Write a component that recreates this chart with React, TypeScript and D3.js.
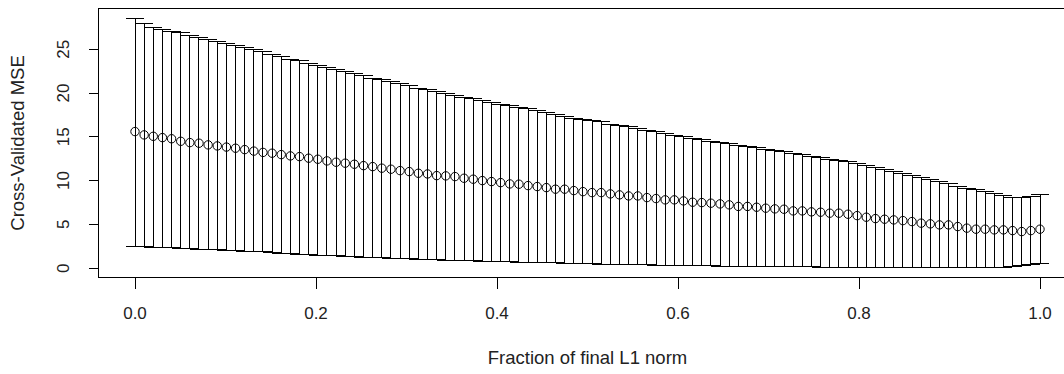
import React from 'react';
import * as d3 from 'd3';

// fraction of final L1 norm grid (seq(0, 1, length = 100))
const fractions: number[] = d3.range(100).map(i => i / 99);

const cvMean: number[] = [
  15.60, 15.22, 15.06, 14.91, 14.78, 14.49, 14.34, 14.27, 14.08, 13.96,
  13.83, 13.70, 13.54, 13.37, 13.22, 13.13, 12.97, 12.82, 12.74, 12.56,
  12.44, 12.25, 12.10, 11.99, 11.87, 11.71, 11.60, 11.42, 11.30, 11.14,
  11.03, 10.84, 10.76, 10.57, 10.54, 10.46, 10.27, 10.16, 10.00, 9.89,
  9.77, 9.62, 9.59, 9.43, 9.32, 9.20, 9.02, 9.02, 8.86, 8.74,
  8.63, 8.63, 8.48, 8.37, 8.25, 8.25, 8.06, 7.95, 7.80, 7.80,
  7.68, 7.53, 7.49, 7.42, 7.34, 7.23, 7.05, 7.05, 6.96, 6.85,
  6.77, 6.73, 6.54, 6.54, 6.43, 6.39, 6.28, 6.28, 6.16, 6.00,
  5.82, 5.66, 5.59, 5.51, 5.43, 5.32, 5.14, 5.06, 4.94, 4.94,
  4.75, 4.57, 4.45, 4.45, 4.37, 4.37, 4.29, 4.18, 4.29, 4.45,
];

const cvUpper: number[] = [
  28.54, 27.97, 27.51, 27.28, 27.05, 26.90, 26.63, 26.37, 26.14, 25.87,
  25.68, 25.46, 25.23, 25.00, 24.73, 24.43, 24.16, 23.86, 23.70, 23.40,
  23.09, 22.94, 22.64, 22.41, 22.18, 21.95, 21.69, 21.50, 21.27, 21.04,
  20.81, 20.55, 20.35, 20.20, 19.98, 19.71, 19.52, 19.33, 19.13, 18.90,
  18.72, 18.53, 18.38, 18.18, 17.99, 17.78, 17.50, 17.31, 17.12, 16.93,
  16.82, 16.70, 16.44, 16.29, 16.17, 15.90, 15.71, 15.56, 15.33, 15.18,
  15.02, 14.84, 14.65, 14.50, 14.34, 14.19, 14.04, 13.85, 13.73, 13.58,
  13.42, 13.31, 13.12, 12.93, 12.74, 12.59, 12.44, 12.28, 12.13, 11.90,
  11.71, 11.53, 11.30, 11.03, 10.76, 10.61, 10.39, 10.08, 9.85, 9.62,
  9.32, 9.09, 8.94, 8.74, 8.56, 8.33, 8.10, 8.06, 8.17, 8.37,
];

const cvLower: number[] = [
  2.47, 2.47, 2.39, 2.39, 2.32, 2.24, 2.24, 2.17, 2.17, 2.09,
  2.01, 1.97, 1.94, 1.86, 1.86, 1.78, 1.71, 1.63, 1.60, 1.52,
  1.48, 1.44, 1.40, 1.33, 1.29, 1.25, 1.21, 1.18, 1.14, 1.10,
  1.06, 1.02, 0.99, 0.95, 0.91, 0.87, 0.87, 0.83, 0.80, 0.76,
  0.76, 0.72, 0.68, 0.68, 0.64, 0.64, 0.60, 0.57, 0.57, 0.53,
  0.49, 0.45, 0.45, 0.42, 0.42, 0.38, 0.38, 0.34, 0.34, 0.30,
  0.30, 0.26, 0.26, 0.26, 0.22, 0.22, 0.19, 0.19, 0.19, 0.19,
  0.15, 0.15, 0.15, 0.15, 0.15, 0.11, 0.11, 0.11, 0.11, 0.11,
  0.11, 0.11, 0.07, 0.07, 0.07, 0.09, 0.08, 0.07, 0.07, 0.07,
  0.07, 0.07, 0.06, 0.05, 0.08, 0.12, 0.19, 0.26, 0.38, 0.49,
];

const xTicks: number[] = [0, 0.2, 0.4, 0.6, 0.8, 1.0];
const yTicks: number[] = [0, 5, 10, 15, 20, 25];

const W = 1064;
const H = 374;
const box = { left: 98.8, right: 1076.2, top: 8.3, bottom: 277.7 };
const font = '"Liberation Sans", Arial, Helvetica, sans-serif';
const ink = '#000';

// R style axis extension: 4% on each side
const pad = (lo: number, hi: number): [number, number] => {
  const r = hi - lo;
  return [lo - 0.04 * r, hi + 0.04 * r];
};

const App = () => {
  const x = d3.scaleLinear().domain(pad(0, 1)).range([box.left, box.right]);
  const yMin = d3.min(cvLower) as number;
  const yMax = d3.max(cvUpper) as number;
  const y = d3.scaleLinear().domain(pad(yMin, yMax)).range([box.bottom, box.top]);
  const barw = 0.01; // half-width of caps in x units

  return (
    <svg width={W} height={H} style={{ display: 'block', position: 'absolute', left: 0, top: 0, background: '#fff' }}>
      <g stroke={ink} strokeWidth={1} fill="none" shapeRendering="crispEdges">
        {fractions.map((f, i) => (
          <g key={i}>
            <line x1={x(f)} x2={x(f)} y1={y(cvUpper[i])} y2={y(cvLower[i])} />
            <line x1={x(f - barw)} x2={x(f + barw)} y1={y(cvUpper[i])} y2={y(cvUpper[i])} />
            <line x1={x(f - barw)} x2={x(f + barw)} y1={y(cvLower[i])} y2={y(cvLower[i])} />
          </g>
        ))}
      </g>
      <g stroke={ink} strokeWidth={1} fill="none">
        {fractions.map((f, i) => (
          <circle key={i} cx={x(f)} cy={y(cvMean[i])} r={4.2} />
        ))}
      </g>
      {/* box */}
      <rect x={box.left} y={box.top} width={box.right - box.left} height={box.bottom - box.top}
        fill="none" stroke={ink} strokeWidth={1} shapeRendering="crispEdges" />
      {/* x axis */}
      <g stroke={ink} shapeRendering="crispEdges">
        {xTicks.map(t => (
          <line key={t} x1={x(t)} x2={x(t)} y1={box.bottom} y2={box.bottom + 11} />
        ))}
      </g>
      {xTicks.map(t => (
        <text key={t} x={x(t)} y={319} textAnchor="middle" fontFamily={font} fontSize={17} fill="#222">
          {d3.format('.1f')(t)}
        </text>
      ))}
      {/* y axis */}
      <g stroke={ink} shapeRendering="crispEdges">
        {yTicks.map(t => (
          <line key={t} x1={box.left - 10} x2={box.left} y1={y(t)} y2={y(t)} />
        ))}
      </g>
      {yTicks.map(t => (
        <text key={t} transform={`translate(69,${y(t)}) rotate(-90)`} textAnchor="middle"
          fontFamily={font} fontSize={17} fill="#222">
          {t}
        </text>
      ))}
      <text x={x(0.5)} y={364} textAnchor="middle" fontFamily={font} fontSize={18.5} fill="#222">
        Fraction of final L1 norm
      </text>
      <text transform={`translate(24,${(box.top + box.bottom) / 2}) rotate(-90)`} textAnchor="middle"
        fontFamily={font} fontSize={18.5} fill="#222">
        Cross-Validated MSE
      </text>
    </svg>
  );
};

export default App;
